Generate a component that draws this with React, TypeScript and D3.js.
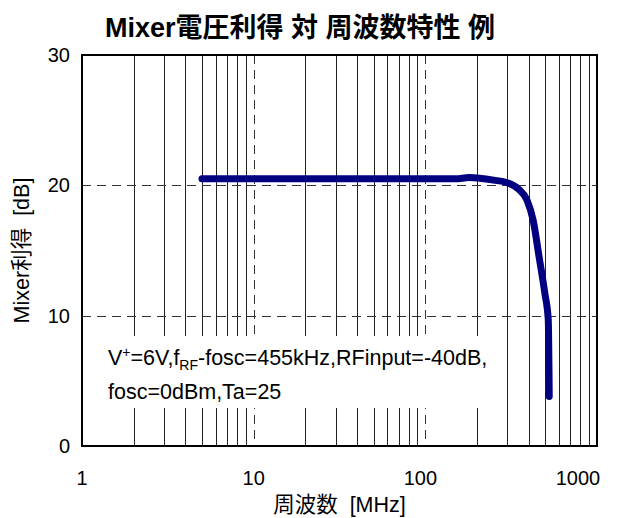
import * as d3 from "d3";
import { useEffect, useRef } from "react";

const freqMHz = [5, 10, 20, 50, 100, 150, 180, 250, 300, 350, 390, 425, 460, 497, 520, 527];
const gainDb = [20.5, 20.5, 20.5, 20.5, 20.5, 20.5, 20.6, 20.4, 20.2, 19.7, 18.9, 17.3, 14.5, 11.7, 9.7, 3.8];

const xTickValues = [1, 10, 100, 1000];
const yTickValues = [0, 10, 20, 30];
const dashedX = [10, 100];
const dashedY = [10, 20];
const minorMults = [2, 3, 4, 5, 6, 7, 8, 9];
const decades = [1, 10, 100];

const title = "Mixer電圧利得 対 周波数特性 例";
const xTitle = "周波数  [MHz]";
const yTitle = "Mixer利得  [dB]";

const FONT = "'Liberation Sans', Arial, 'Noto Sans CJK JP', sans-serif";

function GainChart({ width = 624, height = 518 }) {
  const ref = useRef(null);
  const left = 82;
  const right = 597;
  const top = 55;
  const bottom = 446;

  useEffect(() => {
    const svg = d3
      .select(ref.current)
      .attr("width", width)
      .attr("height", height)
      .attr("style", `position:absolute;left:0;top:0;background:#fff;font-family:${FONT};`);
    svg.selectAll("*").remove();

    const x = d3.scaleLog().domain([1, 1000]).range([left, right]);
    const y = d3.scaleLinear().domain([0, 30]).range([bottom, top]);

    const g = svg.append("g");

    // minor vertical grid
    const minors = decades.flatMap((d) => minorMults.map((m) => d * m));
    g.selectAll("line.minor")
      .data(minors)
      .join("line")
      .attr("x1", (d) => Math.round(x(d)) + 0.5)
      .attr("x2", (d) => Math.round(x(d)) + 0.5)
      .attr("y1", top)
      .attr("y2", bottom)
      .attr("stroke", "#222")
      .attr("stroke-width", 1);

    // dashed majors
    g.selectAll("line.vdash")
      .data(dashedX)
      .join("line")
      .attr("x1", (d) => Math.round(x(d)) + 0.5)
      .attr("x2", (d) => Math.round(x(d)) + 0.5)
      .attr("y1", top)
      .attr("y2", bottom)
      .attr("stroke", "#333")
      .attr("stroke-dasharray", "9,6");
    g.selectAll("line.hdash")
      .data(dashedY)
      .join("line")
      .attr("x1", left)
      .attr("x2", right)
      .attr("y1", (d) => Math.round(y(d)) + 0.5)
      .attr("y2", (d) => Math.round(y(d)) + 0.5)
      .attr("stroke", "#333")
      .attr("stroke-dasharray", "9,6");

    // annotation box (hides grid behind the note)
    g.append("rect")
      .attr("x", 100)
      .attr("y", 336)
      .attr("width", 398)
      .attr("height", 72)
      .attr("fill", "#fff");

    const note = g
      .append("text")
      .attr("font-size", 21.5)
      .attr("fill", "#000");
    const l1 = note.append("tspan").attr("x", 108).attr("y", 365);
    l1.append("tspan").text("V");
    l1.append("tspan").attr("font-size", 14).attr("dy", -8).text("+");
    l1.append("tspan").attr("dy", 8).text("=6V,f");
    l1.append("tspan").attr("font-size", 14).attr("dy", 5).text("RF");
    l1.append("tspan").attr("dy", -5).text("-fosc=455kHz,RFinput=-40dB,");
    note.append("tspan").attr("x", 108).attr("y", 399).text("fosc=0dBm,Ta=25");

    // curve
    const line = d3
      .line<number>()
      .x((_, i) => x(freqMHz[i]))
      .y((d) => y(d))
      .curve(d3.curveMonotoneX);
    g.append("path")
      .attr("d", line(gainDb))
      .attr("fill", "none")
      .attr("stroke", "#000080")
      .attr("stroke-width", 7)
      .attr("stroke-linecap", "round")
      .attr("stroke-linejoin", "round");

    // frame
    g.append("rect")
      .attr("x", left)
      .attr("y", top)
      .attr("width", right - left)
      .attr("height", bottom - top)
      .attr("fill", "none")
      .attr("stroke", "#000")
      .attr("stroke-width", 2);

    // tick labels (the outer ones are pulled inward, as in the reference)
    const labelShift = (d: number) => (d >= 1000 ? -19 : d >= 100 ? -5 : 0);
    g.selectAll("text.xt")
      .data(xTickValues)
      .join("text")
      .attr("x", (d) => x(d) + labelShift(d))
      .attr("y", bottom + 39)
      .attr("text-anchor", "middle")
      .attr("font-size", 20)
      .text((d) => d);
    g.selectAll("text.yt")
      .data(yTickValues)
      .join("text")
      .attr("x", left - 12)
      .attr("y", (d) => y(d) + 7)
      .attr("text-anchor", "end")
      .attr("font-size", 20)
      .text((d) => d);

    // titles
    svg.append("text")
      .attr("x", 300)
      .attr("y", 37)
      .attr("text-anchor", "middle")
      .attr("font-size", 27)
      .attr("font-weight", "bold")
      .text(title);
    svg.append("text")
      .attr("x", (left + right) / 2)
      .attr("y", 512)
      .attr("text-anchor", "middle")
      .attr("font-size", 21.5)
      .style("white-space", "pre")
      .text(xTitle);
    svg.append("text")
      .attr("transform", `translate(29,${(top + bottom) / 2}) rotate(-90)`)
      .attr("text-anchor", "middle")
      .attr("font-size", 21.5)
      .style("white-space", "pre")
      .text(yTitle);
  });

  return <svg ref={ref} />;
}

export default function App() {
  return <GainChart />;
}
